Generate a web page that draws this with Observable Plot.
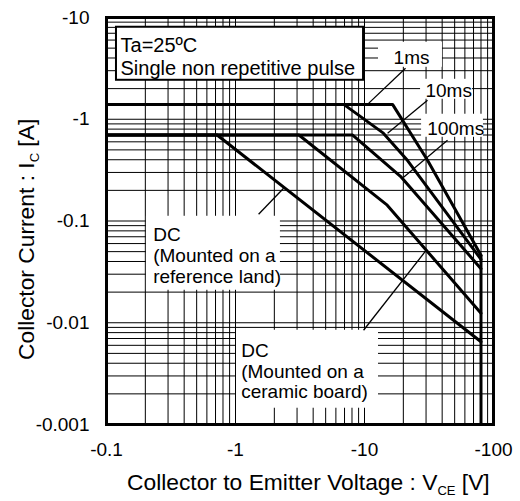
<!DOCTYPE html>
<html>
<head>
<meta charset="utf-8">
<script src="https://cdn.jsdelivr.net/npm/d3@7"></script>
<script src="https://cdn.jsdelivr.net/npm/@observablehq/plot@0.6"></script>
<style>
  html, body { margin: 0; padding: 0; background: #fff; }
  #chart { width: 520px; height: 501px; }
</style>
</head>
<body>
<div id="chart"></div>
<script>
// Safe operating area: |VCE| (V) against |IC| (A), both on log scales.
const xTicks = [0.1, 1, 10, 100];
const xTickLabels = ["-0.1", "-1", "-10", "-100"];
const yTicks = [0.001, 0.01, 0.1, 1, 10];
const yTickLabels = ["-0.001", "-0.01", "-0.1", "-1", "-10"];

const seriesNames = ["1ms", "10ms", "100ms", "DC ceramic board", "DC reference land"];
const vce1ms = [0.1, 16.5, 30.8, 80];
const ic1ms = [1.4, 1.4, 0.395, 0.046];
const vce10ms = [0.1, 6.9, 14, 21.5, 80];
const ic10ms = [1.4, 1.4, 0.73, 0.395, 0.042];
const vce100ms = [0.1, 8.1, 19, 80];
const ic100ms = [0.7, 0.7, 0.275, 0.034];
const vceCeramic = [0.1, 3.1, 15, 80];
const icCeramic = [0.7, 0.7, 0.143, 0.0124];
const vceRefLand = [0.1, 0.72, 80];
const icRefLand = [0.7, 0.7, 0.0065];
const vceoLimit = 80;

const seriesV = [vce1ms, vce10ms, vce100ms, vceCeramic, vceRefLand];
const seriesI = [ic1ms, ic10ms, ic100ms, icCeramic, icRefLand];

const rows = seriesNames.flatMap((name, k) =>
  seriesV[k].map((v, j) => ({series: name, V: v, I: seriesI[k][j]})));

// log grid: 1..9 in every decade
const xGrid = [0.1, 1, 10].flatMap(d => d3.range(1, 10).map(m => m * d)).concat([100]);
const yGrid = [0.001, 0.01, 0.1, 1].flatMap(d => d3.range(1, 10).map(m => m * d)).concat([10]);

// annotation text, anchored at the top-left of the first line
const notes = [
  {text: "1ms", V: 16.8, I: 4.93},
  {text: "10ms", V: 29.7, I: 2.34},
  {text: "100ms", V: 30.6, I: 0.982},
  {text: "DC\n(Mounted on a\nreference land)", V: 0.23, I: 0.0892},
  {text: "DC\n(Mounted on a\nceramic board)", V: 1.107, I: 0.0065}
];
const condition = [{text: "Ta=25ºC\nSingle non repetitive pulse", V: 0.1284, I: 6.68}];

// white backgrounds behind the labels
const labelBoxes = [
  {V1: 12.84, V2: 40.2, I1: 3.24, I2: 5.71},
  {V1: 27.2, V2: 68.7, I1: 1.573, I2: 2.47},
  {V1: 27.7, V2: 83.6, I1: 0.665, I2: 1.12},
  {V1: 0.204, V2: 2.23, I1: 0.02086, I2: 0.1113},
  {V1: 1.018, V2: 12.84, I1: 0.001445, I2: 0.00844}
];
const conditionBox = [{V1: 0.1195, V2: 9.83, I1: 2.416, I2: 8.02}];

// leader lines from each label to its curve
const leaders = [
  {V1: 20.8, I1: 3.17, V2: 10.55, I2: 1.4},
  {V1: 30.8, I1: 1.54, V2: 15.1, I2: 0.728},
  {V1: 44, I1: 0.622, V2: 20.1, I2: 0.269},
  {V1: 1.51, I1: 0.1165, V2: 2.36, I2: 0.21},
  {V1: 9.83, I1: 0.00844, V2: 29.7, I2: 0.0505}
];

const xLabel = new Map(xTicks.map((t, i) => [t, xTickLabels[i]]));
const yLabel = new Map(yTicks.map((t, i) => [t, yTickLabels[i]]));
const limitTop = d3.max(rows.filter(r => r.V === vceoLimit), r => r.I);

const font = "'Liberation Sans', Arial, Helvetica, sans-serif";

const chart = Plot.plot({
  width: 520,
  height: 501,
  marginLeft: 106,
  marginRight: 27,
  marginTop: 17,
  marginBottom: 77,
  style: {fontFamily: font, fontSize: "19px", color: "#000", background: "#fff", overflow: "visible"},
  x: {type: "log", domain: [0.1, 100], ticks: xTicks, tickFormat: d => xLabel.get(d), tickSize: 0, tickPadding: 18, label: null},
  y: {type: "log", domain: [0.001, 10], ticks: yTicks, tickFormat: d => yLabel.get(d), tickSize: 0, tickPadding: 17, label: null},
  marks: [
    Plot.ruleX(xGrid, {stroke: "#000", strokeWidth: 1}),
    Plot.ruleY(yGrid, {stroke: "#000", strokeWidth: 1}),
    Plot.rect(labelBoxes, {x1: "V1", x2: "V2", y1: "I1", y2: "I2", fill: "#fff"}),
    Plot.rect(conditionBox, {x1: "V1", x2: "V2", y1: "I1", y2: "I2", fill: "#fff", stroke: "#000", strokeWidth: 2}),
    Plot.frame({stroke: "#000", strokeWidth: 3}),
    Plot.line(rows, {x: "V", y: "I", z: "series", stroke: "#000", strokeWidth: 3, strokeLinejoin: "miter"}),
    Plot.ruleX([vceoLimit], {y1: limitTop, y2: 0.001, stroke: "#000", strokeWidth: 3}),
    Plot.link(leaders, {x1: "V1", y1: "I1", x2: "V2", y2: "I2", stroke: "#000", strokeWidth: 1.3}),
    Plot.text(notes, {x: "V", y: "I", text: "text", textAnchor: "start", lineAnchor: "top", lineHeight: 1.1, fontSize: 19, fill: "#000"}),
    Plot.text(condition, {x: "V", y: "I", text: "text", textAnchor: "start", lineAnchor: "top", lineHeight: 1.17, fontSize: 20, fill: "#000"})
  ]
});

// axis titles with subscripts
const svg = d3.select(chart);
const xt = svg.append("text")
  .attr("x", 127).attr("y", 490).attr("text-anchor", "start")
  .attr("font-family", font).attr("font-size", 22.8).attr("fill", "#000");
xt.append("tspan").text("Collector to Emitter Voltage : V");
xt.append("tspan").attr("font-size", 13).attr("dy", 5).text("CE");
xt.append("tspan").attr("dy", -5).text(" [V]");

const yt = svg.append("text")
  .attr("transform", "translate(33.5,360) rotate(-90)").attr("text-anchor", "start")
  .attr("font-family", font).attr("font-size", 22.8).attr("fill", "#000");
yt.append("tspan").text("Collector Current : I");
yt.append("tspan").attr("font-size", 13).attr("dy", 5).text("C");
yt.append("tspan").attr("dy", -5).text(" [A]");

document.getElementById("chart").appendChild(chart);
</script>
</body>
</html>
